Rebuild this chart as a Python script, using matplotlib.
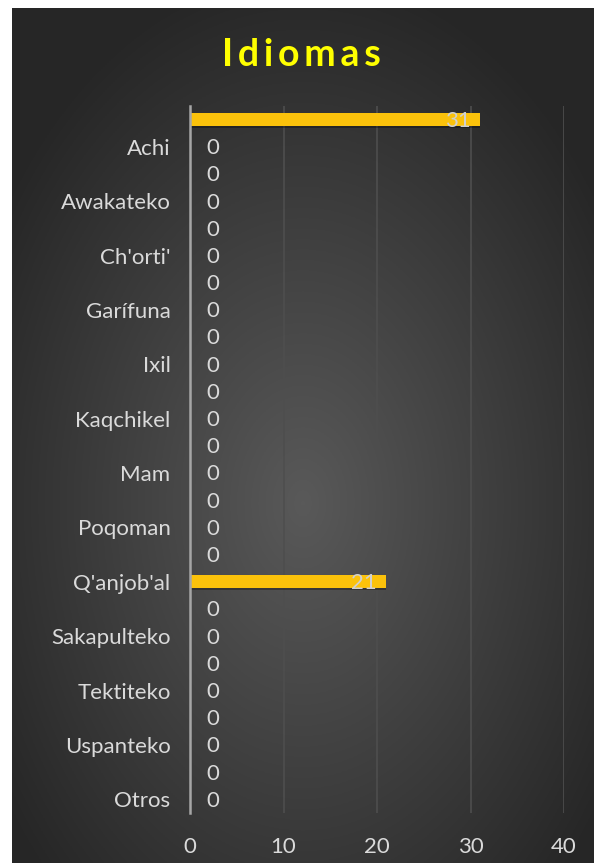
import numpy as np
import matplotlib.pyplot as plt

idiomas = ["Español", "Achi", "Akateko", "Awakateko", "Chalchiteko", "Ch'orti'",
           "Chuj", "Garífuna", "Itza'", "Ixil", "Jakalteko", "Kaqchikel",
           "K'iche'", "Mam", "Mopan", "Poqoman", "Poqomchi'", "Q'anjob'al",
           "Q'eqchi'", "Sakapulteko", "Sipakapense", "Tektiteko", "Tz'utujil",
           "Uspanteko", "Xinka", "Otros"]
valores = [31, 0, 0, 0, 0, 0, 0, 0, 0, 0, 0, 0, 0, 0, 0, 0, 0, 21,
           0, 0, 0, 0, 0, 0, 0, 0]
ticks_x = [0, 10, 20, 30, 40]

plt.rcParams["font.family"] = ["Lato", "DejaVu Sans"]
W, H = 594, 863
fig = plt.figure(figsize=(W / 100, H / 100), dpi=100, facecolor="white")

# dark radial gradient panel
bg = fig.add_axes([12 / W, 0, (W - 12) / W, (H - 8) / H])
yy, xx = np.mgrid[0:1:400j, 0:1:300j]
r = np.sqrt(((xx - 0.5) / 0.75) ** 2 + ((yy - 0.42) / 0.75) ** 2)
shade = np.clip(0.35 - 0.24 * r, 0.15, 0.35)
bg.imshow(np.dstack([shade] * 3), extent=[0, 1, 0, 1], aspect="auto", origin="lower")
bg.axis("off")

ax = fig.add_axes([190 / W, 1 - 813 / H, (564 - 190) / W, (813 - 106) / H])
ax.set_facecolor("none")
y = np.arange(len(idiomas))
ax.barh(y + 0.07, valores, height=0.48, color="black", alpha=0.3, zorder=2)
ax.barh(y, valores, height=0.48, color="#FBC20B", zorder=3)

for yi, v in zip(y, valores):
    if v > 0:
        ax.text(v - 1.0, yi + 0.05, str(v), ha="right", va="center",
                color="#D0D0D0", fontsize=16, zorder=4)
    else:
        ax.text(2.4, yi + 0.05, str(v), ha="center", va="center",
                color="#DADADA", fontsize=16, zorder=4)

ax.set_xlim(0, 40)
ax.set_ylim(len(idiomas) - 0.5, -0.5)
ax.set_xticks(ticks_x)
ax.set_xticklabels([str(t) for t in ticks_x], color="#DADADA", fontsize=16)
ax.set_yticks(y)
ax.set_yticklabels([n if i % 2 == 1 else "" for i, n in enumerate(idiomas)],
                   color="#DADADA", fontsize=16)
ax.tick_params(length=0, pad=14)
ax.tick_params(axis="x", pad=17)
ax.grid(axis="x", color="#4E4E4E", linewidth=1.2, zorder=0)
for s in ["top", "right", "bottom"]:
    ax.spines[s].set_visible(False)
ax.spines["left"].set_color("#A6A6A6")
ax.spines["left"].set_linewidth(1.8)
ax.spines["left"].set_zorder(5)

fig.text(301 / W, 1 - 55 / H, "\u2009".join("Idiomas"), ha="center", va="center",
         color="#FFFF00", fontsize=27, fontweight="bold")

fig.savefig("out.png", dpi=100, facecolor="white")
